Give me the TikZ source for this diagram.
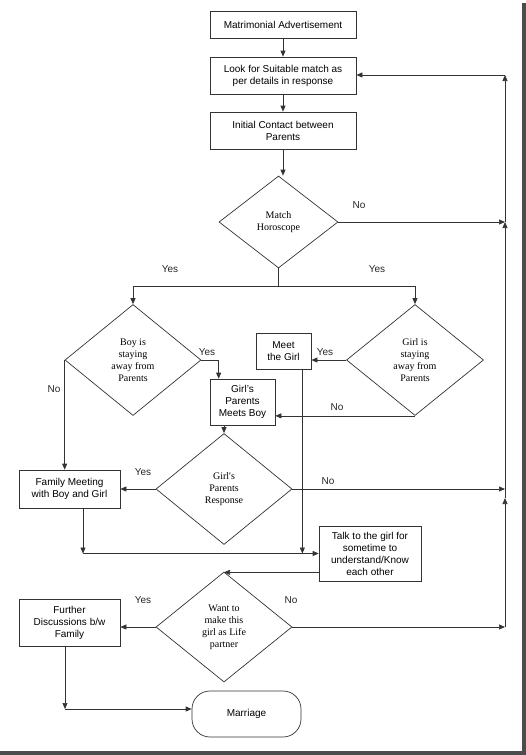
\documentclass[tikz,border=0pt]{standalone}
\usepackage{fontspec}
\setsansfont{Liberation Sans}
\newfontfamily\decfont{Liberation Serif}
\usetikzlibrary{shapes.geometric,arrows.meta}

\begin{document}
\begin{tikzpicture}[
    x=1pt, y=-1pt,
    line width=0.7pt,
    box/.style={
        rectangle,
        draw=black!80,
        inner sep=1pt,
        align=center,
        font=\sffamily\fontsize{10}{12}\selectfont
    },
    decision/.style={
        diamond,
        draw=black!80,
        inner sep=0pt,
        align=center,
        font=\decfont\fontsize{10}{12}\selectfont
    },
    lbl/.style={font=\sffamily\fontsize{10}{12}\selectfont, text=black!85},
    arrow/.style={-{Triangle[length=6pt,width=5pt]}, draw=black!80}
]
\useasboundingbox (0,0) rectangle (526,755);

% Frame shadow
\fill[black!70] (522,3) rectangle (526,755);
\fill[black!70] (0,751) rectangle (526,755);

% Nodes
\node[box, minimum width=146pt, minimum height=27pt] (Adv) at (283,24.5) {Matrimonial Advertisement};
\node[box, minimum width=146pt, minimum height=37pt] (Look) at (283,75.5) {Look for Suitable match as\\per details in response};
\node[box, minimum width=146pt, minimum height=37pt] (Contact) at (283,130.5) {Initial Contact between\\Parents};
\node[decision, minimum width=119pt, minimum height=92pt] (Horo) at (278.5,222) {Match\\Horoscope};
\node[decision, minimum width=136pt, minimum height=111pt] (Boy) at (133,360) {Boy is\\staying\\away from\\Parents};
\node[decision, minimum width=137pt, minimum height=111pt] (Girl) at (415,360) {Girl is\\staying\\away from\\Parents};
\node[box, minimum width=55pt, minimum height=36pt] (Meet) at (283.5,351) {Meet\\the Girl};
\node[box, minimum width=65pt, minimum height=46pt] (GPMB) at (242.5,402) {Girl's\\Parents\\Meets Boy};
\node[decision, minimum width=136pt, minimum height=111pt] (GPR) at (224,489) {Girl's\\Parents\\Response};
\node[box, minimum width=101pt, minimum height=38pt] (Family) at (69.5,489) {Family Meeting\\with Boy and Girl};
\node[box, minimum width=102pt, minimum height=55pt] (Talk) at (370,553.5) {Talk to the girl for\\sometime to\\understand/Know\\each other};
\node[decision, minimum width=136pt, minimum height=110pt] (Want) at (224,627) {Want to\\make this\\girl as Life\\partner};
\node[box, minimum width=101pt, minimum height=47pt] (Further) at (69.5,622.5) {Further\\Discussions b/w\\Family};
\node[box, rounded corners=18pt, minimum width=109pt, minimum height=46pt] (Marr) at (246.5,714) {Marriage};

% Helper points
\coordinate (split) at (Horo.south |- 0,286);
\coordinate (railtop) at (505,75);
\coordinate (railmid) at (505,498);
\coordinate (meetout) at ([xshift=-9pt]Meet.south east);
\coordinate (famout) at ([xshift=13.5pt]Family.south);
\coordinate (talkout) at ([yshift=9pt]Talk.south west);
\coordinate (furtherout) at ([xshift=-4.5pt]Further.south);
\coordinate (marrin) at ([yshift=5pt]Marr.west);
\coordinate (gpmbin) at ([xshift=9pt]GPMB.north west);

% Arrows
\draw[arrow] (Adv) -- (Look);
\draw[arrow] (Look) -- (Contact);
\draw[arrow] (Contact.south) -- (Contact.south |- Horo.north);
\draw[draw=black!80] (Horo.south) -- (split);
\draw[arrow] (split) -| (Boy.north);
\draw[arrow] (split) -| (Girl.north);
\draw[arrow] (Horo.east) -- (Horo.east -| railtop);
\draw[arrow] (Boy.east) -| (gpmbin);
\draw[arrow] (Boy.west) -- (Boy.west |- Family.north);
\draw[arrow] (Girl.west) -- (Girl.west -| Meet.east);
\draw[arrow] (Girl.south) -- (Girl.south -| GPMB.east);
\draw[arrow] (meetout) -- (meetout |- Talk.west);
\draw[arrow] (GPR.north |- GPMB.south) -- (GPR.north);
\draw[arrow] (GPR.west) -- (GPR.west -| Family.east);
\draw[arrow] (GPR.east) -- (GPR.east -| railtop);
\draw[arrow] (famout) -- (famout |- Talk.west);
\draw[arrow] (famout |- Talk.west) -- (Talk.west);
\draw[arrow] (talkout) -- (talkout -| Want.north);
\draw[arrow] (Want.west) -- (Want.west -| Further.east);
\draw[arrow] (Want.east) -- (Want.east -| railtop);
\draw[arrow] (furtherout) -- (furtherout |- marrin);
\draw[arrow] (furtherout |- marrin) -- (marrin);

% Return rail
\draw[arrow] (Want.east -| railtop) -- (railmid);
\draw[draw=black!80] (railmid) -- (GPR.east -| railtop);
\draw[arrow] (GPR.east -| railtop) -- (Horo.east -| railtop);
\draw[arrow] (Horo.east -| railtop) -- (railtop);
\draw[arrow] (railtop) -- (railtop -| Look.east);

% Labels
\node[lbl] (noHoro) at (359,205) {No};
\node[lbl] (yesBoy) at (170,269) {Yes};
\node[lbl] (yesGirl) at (377,269) {Yes};
\node[lbl] (yesBoyR) at (207,352) {Yes};
\node[lbl] (yesGirlL) at (325,352) {Yes};
\node[lbl] (noBoy) at (54,389) {No};
\node[lbl] (noGirl) at (337,407) {No};
\node[lbl] (yesGPR) at (143,472) {Yes};
\node[lbl] (noGPR) at (328,481) {No};
\node[lbl] (yesWant) at (143,600) {Yes};
\node[lbl] (noWant) at (291,600) {No};

\end{tikzpicture}
\end{document}
